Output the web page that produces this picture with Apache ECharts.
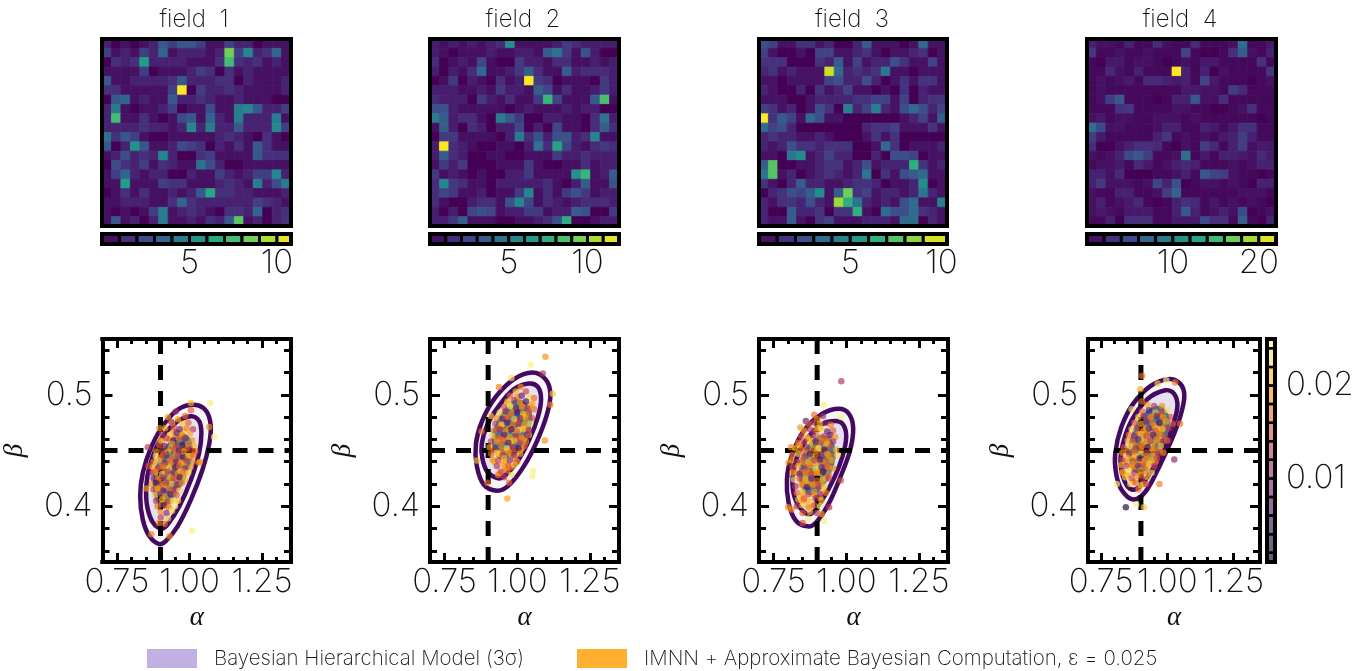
<!DOCTYPE html>
<html><head><meta charset="utf-8">
<style>html,body{margin:0;padding:0;background:#fff}#c{width:1368px;height:671px}</style>
<script src="https://cdn.jsdelivr.net/npm/echarts@6/dist/echarts.min.js"></script>
</head><body><div id="c"></div>
<script>
const fieldTitles = ['field  1','field  2','field  3','field  4'];
const viridis = ['#440154','#482878','#3e4989','#31688e','#26828e','#1f9e89','#35b779','#6ece58','#b5de2b','#fde725'];
const inferno = ['#000004','#1b0c41','#4a0c6b','#781c6d','#a52c60','#cf4446','#ed6925','#fb9b06','#f7d13d','#fcffa4'];

const field1 = [
[1,0,.5,0,.5,1,3,2,3,3,2,.5,.5,2,1,1,0,.5,.5,.5],
[2,.5,1,.5,2,1,3.5,.5,1,1,1,.5,1,8.5,2,5,1,1.5,3.5,.5],
[0,1.5,1,1.5,6,1,1,1,1,.5,.5,.5,1.5,7.5,1.5,1,1.5,.5,1,.5],
[.5,.5,.5,.5,2,0,.5,.5,.5,1,2,1.5,0,1.5,.5,1,.5,.5,.5,.5],
[3,.5,.5,1,1,1,1,1.5,3,1,1,1,1.5,1.5,0,1,.5,.5,.5,1],
[1.5,1.5,.5,.5,.5,.5,.5,2,10.8,0,2,1,1,1.5,1,.5,.5,.5,.5,1],
[0,3,3.5,.5,1,.5,.5,3,1,1,1.5,1,.5,.5,1,.5,.5,.5,0,0],
[1,4.5,.5,0,.5,.5,1,2,0,.5,.5,2.5,.5,.5,4.5,5,3,1,1,2],
[1,7.5,.5,.5,1.5,.5,0,.5,2.5,3,.5,3.5,1,.5,4.5,1,1,1,4.5,.5],
[1,1,1,1,1.5,1,1,.5,1,5,1,4.5,1,1,3,1,1,1,5,2],
[4,1.5,3,2,.5,0,0,.5,.5,.5,.5,.5,1,1.5,1,.5,0,1.5,.5,0],
[3,0,1,5.5,3,.5,.5,1,2.5,2,1.5,0,1,.5,1.5,.5,3,1.5,.5,.5],
[.5,1,2.5,1,1.5,1,5,1,0,0,1.5,2,.5,.5,.5,.5,3,1.5,1.5,1.5],
[0,2.5,1.5,1,2,.5,1.5,1,.5,.5,4,2.5,1,0,0,.5,.5,.5,.5,.5],
[.5,2,3.5,1,.5,1,1,0,0,1,.5,.5,2,1,.5,1,2,2,5,1],
[.5,.5,6,.5,.5,.5,2,1.5,1.5,.5,.5,.5,1,1.5,1,.5,4.5,1,2.5,4.5],
[0,.5,1.5,.5,1.5,.5,.5,1,.5,1,3,6.5,1.5,1.5,1,1,.5,.5,.5,1],
[.5,.5,1,1,1,.5,.5,1.5,3.5,1.5,1,1,1,1,1,1,2,1.5,1,.5],
[.5,0,.5,0,.5,2,4.5,.5,1,1.5,1,.5,0,1.5,1.5,1,3.5,0,1,1.5],
[.5,3,.5,1,0,1,4.5,.5,.5,1,.5,1.5,1,3,8,.5,1,0,1,1.5]];
const field2 = [
[1,.5,1,.5,1,.5,1,1.5,6,.5,.5,.5,.5,1,2,1.5,1,1,1,1],
[1,.5,0,.5,.5,.5,1,.5,.5,1,1,.5,3.5,4.5,2,.5,3,1,0,0],
[1.5,0,.5,1,.5,2.5,.5,0,0,2,1,1,.5,1.5,1.5,.5,.5,1,.5,1],
[1,0,1,.5,1.5,4,.5,.5,1,2,3.5,1.5,.5,.5,3.5,1,1.5,1.5,1.5,1],
[0,.5,2,0,1,.5,0,1.5,.5,1,12,2,1.5,0,.5,.5,.5,0,2,1],
[1,1,1,.5,.5,1,.5,2,1,1,.5,3.5,2.5,.5,1.5,.5,.5,1,2,1],
[1.5,1,1,1,0,2,1,.5,1.5,.5,.5,2,8,2.5,.5,.5,.5,3.5,8.5,.5],
[3,3,1,.5,.5,.5,.5,.5,0,.5,1,.5,.5,.5,1,.5,1,1,0,0],
[5,3.5,1,1.5,1.5,.5,0,5,3.5,2,0,0,1,1,.5,.5,0,1.5,4.5,1],
[.5,3.5,1,0,1.5,1,0,1,1,2.5,0,1,0,2.5,.5,.5,0,1.5,3.5,1.5],
[0,2,2,.5,.5,.5,.5,0,1,5,1.5,3,1,3,3,1,1.5,5.5,.5,.5],
[1,12,1.5,1,.5,0,0,.5,.5,0,1,4.5,1.5,7,2.5,1,.5,1.5,2,1.5],
[1,3.5,1.5,1,0,0,.5,.5,0,0,.5,.5,.5,2,1,1,1.5,1,1,1],
[.5,2,1,2,0,0,0,.5,.5,.5,2,.5,0,0,.5,.5,1.5,.5,1,1],
[2,.5,1,.5,0,.5,0,0,1,1,2,.5,.5,.5,.5,6,8,.5,1,3.5],
[1.5,5.5,2,1.5,.5,.5,0,1,1,1,1,1,1.5,.5,0,1,3.5,.5,.5,3],
[1.5,2.5,2,.5,.5,1,0,.5,.5,2,5.5,.5,1.5,.5,2,3,2,.5,1,1],
[1.5,.5,0,0,1,1.5,1.5,.5,3,5.5,2.5,.5,1.5,1,.5,1,1.5,1.5,1.5,1],
[1,0,1,0,2.5,3,2.5,.5,1,1,2,2,.5,1,1,3.5,3,0,0,2],
[1,1,2,3.5,.5,.5,.5,0,0,.5,.5,1,1.5,3,7.5,0,0,.5,1,1]];
const field3 = [
[2.5,2,.5,.5,1.5,1.5,.5,1,0,0,1,3,.5,.5,.5,0,.5,3.5,.5,.5],
[2,.5,0,0,.5,0,2,2,.5,.5,1,1.5,.5,0,.5,.5,1,1.5,0,.5],
[1.5,1.5,1.5,0,0,0,1.5,1,3,.5,2,.5,1,1,2.5,1.5,.5,.5,2,.5],
[1,1.5,.5,1,.5,.5,.5,9.5,3.5,1,1.5,1,1.5,4,.5,.5,0,.5,.5,.5],
[.5,.5,0,.5,.5,.5,.5,2,2.5,1,1,2.5,1,0,.5,1.5,.5,1.5,1.5,.5],
[1,.5,0,0,1,0,1.5,.5,1,2,.5,.5,0,.5,0,1.5,0,1,.5,.5],
[.5,.5,.5,0,0,.5,1,1,1,1,1.5,1.5,2,2,.5,2,0,1,1.5,1.5],
[2,1.5,.5,1,0,.5,2.5,1.5,0,4.5,1,2,4.5,1,.5,2.5,3.5,2.5,1,2],
[10.3,1.5,3,2,.5,3.5,2.5,.5,.5,0,0,0,0,0,0,.5,1,2,.5,3],
[3.5,2,2.5,1,0,0,0,0,0,0,0,1,1.5,1.5,2,.5,.5,.5,1.5,.5],
[1,1.5,1,1,.5,.5,1,.5,0,0,0,.5,1.5,.5,1.5,0,0,0,0,0],
[1,.5,1,2.5,1.5,1.5,1,1.5,1.5,1.5,0,0,.5,3.5,1.5,0,.5,.5,.5,1],
[.5,.5,0,4,5,.5,1,2,1,1,0,0,1,0,2.5,2.5,2,0,.5,.5],
[3,7.5,0,0,.5,.5,1,1.5,1.5,.5,1,2.5,.5,1,1,1,6.5,1.5,.5,1],
[4,7.5,.5,1,0,.5,1,1.5,1,.5,1,4,0,1.5,.5,2.5,3,3.5,.5,.5],
[1.5,.5,0,1,3,1,1,.5,.5,1,1.5,1.5,1,0,.5,.5,1,5,0,.5],
[0,1,1.5,2.5,2,3,5,.5,3,8,1.5,2,.5,1,1,.5,1,4,1,.5],
[1,.5,1.5,1.5,1,2.5,1,.5,8.8,6.5,4,1,.5,1,.5,2.5,3.5,.5,.5,4.5],
[1,0,0,3,1,1,1.5,0,1.5,1.5,6.5,.5,0,3.5,2.5,2.5,3.5,1.5,1,.5],
[1,.5,.5,3,.5,0,1.5,2,.5,.5,.5,1,1,1,.5,3.5,3.5,0,1,.5]];
const field4 = [
[2,1,1,.5,2,.5,.5,2.5,1,.5,.5,2.5,.5,.5,.5,1,8,.5,.5,1.5],
[3.5,.5,.5,1,.5,.5,1,.5,.5,.5,4.5,.5,0,0,.5,3,6.5,1,.5,2],
[.5,0,1.5,1.5,.5,1,1,.5,0,.5,1,.5,1.5,1.5,.5,.5,.5,.5,3,.5],
[.5,.5,2.5,1,.5,2,.5,.5,.5,22,2,.5,2,0,1,.5,.5,.5,.5,3.5],
[.5,1,.5,1,1.5,.5,2.5,2.5,2,1.5,2,.5,4.5,1.5,.5,.5,.5,0,.5,1],
[.5,1,.5,.5,.5,.5,.5,.5,.5,.5,1.5,1.5,1,1,.5,4,2.5,.5,.5,.5],
[.5,1,4,6,.5,.5,.5,0,.5,2,2,6,1,1,3,.5,.5,.5,.5,.5],
[.5,.5,.5,3,3.5,.5,.5,.5,.5,1,1,.5,.5,0,0,.5,1,3,.5,.5],
[1,1.5,.5,1,1,.5,.5,1,1,1,.5,1,.5,.5,.5,.5,.5,.5,0,.5],
[8,5,1,1,.5,.5,.5,1,2,2,.5,.5,2,1.5,.5,1.5,3,3,.5,.5],
[4,1.5,.5,.5,.5,.5,.5,2,3.5,.5,1,.5,1,.5,1.5,2,4,2,.5,.5],
[3,0,0,1,2,3,3,2.5,.5,0,1,.5,4,2.5,.5,2,4,1,1.5,1.5],
[1,.5,1,2,5,6,4,.5,.5,1,8,.5,1.5,.5,2,2,1.5,1,2.5,1.5],
[.5,1,1,1.5,.5,2.5,1.5,.5,1,2,2.5,2,.5,.5,.5,1,.5,1,2,2],
[2,2,1,2.5,0,0,0,.5,.5,1,2,.5,6,4.5,4,1,.5,.5,0,.5],
[2,3.5,1,1,1,.5,1,4.5,2,5.5,0,.5,1,1,.5,1,.5,0,2,2],
[1,.5,.5,2,2,.5,.5,1,4,7,.5,.5,.5,.5,.5,.5,1,1,1,.5],
[1,2,.5,1,1.5,2.5,.5,0,.5,2,3,2.5,.5,1.5,.5,1,.5,1,.5,0],
[1,1.5,1,.5,1.5,1.5,1.5,.5,.5,2,6,2,.5,1,2,1,5,0,.5,1],
[.5,.5,2,0,3,3,3,.5,.5,1.5,1.5,1.5,5,3,3,.5,6.5,.5,0,2]];
const fieldMax = [10.8,12,10.3,22];
const fieldTicks = [[5,10],[5,10],[5,10],[10,20]];
const barEdges = [
[0,1,2,3,4,5,6,7,8,9,10,10.8],
[0,1,2,3,4,5,6,7,8,9,10,11,12],
[0,1,2,3,4,5,6,7,8,9,10.3],
[0,2,4,6,8,10,12,14,16,18,20,22]];
const epsEdges = [.001,.002,.004,.006,.008,.01,.012,.014,.016,.018,.02,.022,.024,.025];
const epsTicks = [.01,.02];

const trueAlpha = 0.9, trueBeta = 0.45;
const alphaRange = [0.7,1.35], betaRange = [0.35,0.55];
const alphaMajor = [.75,1,1.25];
const alphaMinor = [.8,.85,.9,.95,1.05,1.1,1.15,1.2,1.3];
const betaMajor = [.4,.5];
const betaMinor = [.36,.38,.42,.44,.46,.48,.52,.54];

const outer1=[[1.016,.491],[1.056,.486],[1.073,.473],[1.068,.456],[1.045,.433],[1.005,.406],[.959,.382],[.919,.369],[.896,.366],[.862,.373],[.839,.388],[.83,.409],[.839,.43],[.868,.453],[.913,.474],[.965,.4875]];
const inner1=[[1.005,.4807],[1.033,.4765],[1.041,.4653],[1.033,.4475],[1.005,.4238],[.965,.4],[.925,.3838],[.904,.38],[.874,.3853],[.854,.4],[.851,.4179],[.862,.4356],[.896,.4579],[.948,.4741]];
const core1=[[.971,.4653],[1.003,.4608],[1.011,.4475],[.993,.4297],[.959,.412],[.913,.4],[.882,.406],[.874,.4208],[.888,.4386],[.925,.4564]];
const outer2=[[1.052,.52],[1.097,.514],[1.114,.501],[1.103,.483],[1.069,.459],[1.023,.436],[.972,.419],[.932,.414],[.886,.419],[.861,.436],[.858,.456],[.88,.477],[.926,.498],[.989,.514]];
const inner2=[[1.04,.51],[1.071,.507],[1.082,.496],[1.071,.48],[1.04,.459],[1,.44],[.96,.428],[.935,.425],[.897,.431],[.88,.443],[.878,.456],[.897,.473],[.937,.49],[.989,.505]];
const core2=[[1.006,.496],[1.04,.49],[1.052,.479],[1.034,.462],[.995,.447],[.943,.442],[.918,.45],[.915,.465],[.937,.48],[.972,.492]];
const outer3=[[.975,.4875],[1.009,.483],[1.024,.47],[1.013,.45],[.981,.427],[.941,.403],[.895,.385],[.867,.382],[.827,.387],[.802,.403],[.796,.424],[.812,.445],[.855,.468],[.918,.483]];
const inner3=[[.964,.4765],[.99,.473],[1,.462],[.987,.4445],[.958,.425],[.918,.406],[.878,.393],[.85,.396],[.823,.4075],[.815,.424],[.827,.4415],[.861,.459],[.912,.473]];
const core3=[[.918,.4638],[.952,.459],[.964,.446],[.947,.4297],[.912,.415],[.872,.41],[.844,.418],[.838,.4327],[.855,.449],[.889,.461]];
const outer4=[[1.002,.514],[1.048,.51],[1.064,.499],[1.048,.48],[1.015,.459],[.97,.436],[.917,.413],[.871,.406],[.826,.415],[.806,.4297],[.803,.4475],[.826,.471],[.871,.492],[.937,.508]];
const inner4=[[.992,.504],[1.025,.501],[1.038,.49],[1.022,.474],[.989,.453],[.943,.433],[.898,.418],[.865,.415],[.839,.422],[.823,.4386],[.832,.456],[.865,.477],[.924,.496]];
const core4=[[.957,.49],[.996,.486],[1.009,.474],[.989,.456],[.943,.4386],[.898,.4297],[.865,.4327],[.852,.4475],[.865,.465],[.904,.4816]];

const abc1=[[1.071,.4925,.024],[1.005,.4925,.021],[1.005,.486,.016],[.953,.485,.012],[1.068,.471,.019],[1.085,.462,.024],[1.009,.378,.024],[.896,.47,.019],[.856,.453,.013],[.859,.436,.015],[.851,.416,.02],[.931,.373,.019],[.868,.375,.018],[1.033,.439,.02],
[.925,.48,.02],[.985,.481,.017],[.936,.476,.012],[.976,.474,.022],[.996,.475,.016],[.916,.47,.02],[.946,.471,.015],[.966,.469,.009],[.99,.47,.018],[1.012,.469,.013],[.905,.465,.012],[.931,.464,.022],[.956,.466,.008],[.975,.464,.019],[1.001,.465,.02],
[.9,.459,.021],[.921,.461,.014],[.944,.459,.007],[.966,.46,.017],[.984,.461,.011],[1.009,.459,.019],[.896,.455,.016],[.914,.454,.009],[.94,.456,.02],[.955,.454,.013],[.976,.455,.006],[.995,.456,.018],[1.016,.454,.021],
[.886,.449,.019],[.906,.451,.012],[.925,.449,.022],[.946,.451,.016],[.964,.45,.008],[.981,.449,.019],[1,.451,.013],[1.02,.449,.017],[.884,.445,.023],[.901,.444,.015],[.92,.446,.01],[.941,.444,.018],[.96,.446,.013],[.979,.444,.007],[.996,.445,.021],[1.014,.446,.017],
[.876,.44,.018],[.894,.441,.021],[.916,.439,.011],[.934,.441,.016],[.955,.44,.009],[.971,.439,.02],[.989,.441,.014],[1.011,.44,.018],[1.036,.44,.019],[.874,.435,.02],[.891,.434,.013],[.909,.436,.017],[.93,.434,.022],[.951,.435,.006],[.964,.436,.016],[.986,.434,.012],[1.004,.435,.019],
[.871,.43,.011],[.884,.431,.018],[.906,.429,.023],[.924,.431,.014],[.946,.43,.01],[.96,.429,.019],[.979,.431,.017],[.996,.43,.022],[.876,.425,.009],[.891,.424,.017],[.909,.426,.012],[.93,.424,.02],[.944,.425,.015],[.966,.426,.007],[.985,.424,.021],
[.87,.42,.019],[.884,.421,.006],[.901,.419,.016],[.919,.421,.013],[.94,.42,.022],[.956,.419,.011],[.974,.421,.018],[.876,.415,.014],[.889,.416,.02],[.91,.414,.009],[.931,.416,.017],[.95,.415,.012],[.965,.414,.023],
[.881,.41,.022],[.899,.411,.013],[.916,.409,.019],[.934,.411,.008],[.955,.41,.016],[.885,.405,.012],[.906,.406,.021],[.924,.404,.015],[.944,.405,.023],[.89,.4,.017],[.911,.401,.006],[.929,.399,.018],[.95,.4,.024],[.9,.395,.019],[.921,.394,.01],[.94,.396,.023],[.901,.39,.013],[.926,.389,.022],[.895,.385,.018],[.915,.384,.016]];
const warm1=[[.93,.46,.019],[.95,.462,.018],[.97,.452,.02],[.91,.447,.019],[.935,.452,.018],[.955,.447,.02],[.99,.452,.017],[.9,.435,.018],[.92,.436,.02],[.94,.438,.019],[.96,.441,.017],[.98,.438,.02],[.895,.425,.019],[.915,.43,.018],[.935,.427,.021],[.955,.425,.018],[.975,.427,.02],[.895,.415,.018],[.92,.418,.02],[.94,.412,.019],[.96,.418,.017],[.905,.402,.019],[.935,.405,.018],[.92,.4,.02],[.97,.465,.021],[.945,.467,.019],[.905,.458,.02],[.985,.445,.018],[1.005,.445,.019],[.88,.43,.02],[.985,.43,.021],[.9,.443,.017],[.95,.433,.02],[.91,.42,.021],[.96,.405,.022],[.94,.475,.022],[.96,.478,.02],[.98,.468,.022],[.93,.44,.021],[.97,.432,.023]];

const abc2=[[1.097,.534,.019],[1.046,.527,.024],[1.088,.519,.012],[.98,.515,.023],[.937,.507,.018],[1.122,.501,.022],[1.114,.491,.018],[1.095,.459,.019],[1.054,.432,.024],[1.052,.427,.024],[.966,.407,.02],[.861,.441,.021],[.877,.467,.017],[.897,.421,.017],[.972,.421,.016],[.909,.481,.022],[.934,.428,.018],
[1.012,.507,.019],[1.03,.503,.014],[.995,.503,.021],[.975,.499,.016],[1.015,.499,.008],[1.04,.498,.023],[1.058,.497,.017],[.966,.494,.02],[.99,.495,.012],[1.01,.493,.019],[1.03,.494,.006],[1.052,.492,.02],[.955,.489,.015],[.975,.49,.023],[.996,.488,.009],[1.016,.489,.018],[1.035,.488,.013],[1.058,.487,.017],
[.94,.484,.022],[.96,.485,.012],[.98,.483,.018],[1,.484,.007],[1.02,.483,.021],[1.04,.484,.016],[.93,.479,.019],[.95,.478,.009],[.97,.48,.016],[.99,.478,.022],[1.01,.479,.011],[1.03,.478,.019],[1.05,.479,.015],[.925,.474,.014],[.945,.473,.021],[.965,.475,.008],[.985,.473,.017],[1.005,.474,.012],[1.025,.473,.02],[1.045,.474,.023],
[.92,.468,.017],[.94,.469,.011],[.96,.467,.019],[.98,.469,.006],[1,.467,.016],[1.02,.469,.022],[1.04,.468,.013],[.915,.463,.022],[.935,.462,.015],[.955,.464,.009],[.975,.462,.02],[.995,.463,.013],[1.015,.462,.018],[1.035,.464,.011],
[.91,.458,.013],[.93,.458,.019],[.95,.459,.016],[.97,.457,.007],[.99,.459,.021],[1.01,.457,.014],[1.03,.458,.018],[.905,.453,.02],[.925,.452,.01],[.945,.454,.018],[.965,.452,.023],[.985,.453,.012],[1.005,.452,.006],[1.025,.454,.017],
[.91,.447,.016],[.93,.448,.022],[.95,.446,.013],[.97,.448,.018],[.99,.446,.009],[1.01,.447,.02],[.915,.442,.019],[.935,.441,.014],[.955,.443,.021],[.975,.441,.011],[.995,.442,.017],[.93,.436,.012],[.95,.437,.02],[.97,.436,.016],[.99,.437,.022],[.945,.431,.014],[.965,.432,.018],[.955,.426,.013],[.98,.428,.023]];
const warm2=[[1,.498,.019],[1.02,.49,.018],[.985,.488,.02],[.96,.48,.019],[1,.476,.018],[1.03,.482,.02],[.94,.47,.019],[.97,.47,.018],[1.01,.47,.02],[1.03,.47,.019],[.93,.46,.018],[.96,.46,.02],[.98,.457,.019],[1,.46,.017],[1.02,.46,.02],[.92,.45,.019],[.95,.45,.018],[.97,.45,.02],[.99,.45,.018],[1.01,.45,.019],[.92,.44,.02],[.94,.445,.018],[.96,.44,.019],[.98,.445,.02],[1,.44,.018],[.94,.43,.02],[.96,.435,.019],[.98,.435,.018],[1.02,.48,.022],[1.04,.464,.021],[.95,.474,.022],[.99,.468,.021],[.975,.458,.022],[.945,.46,.021],[.935,.447,.022],[1.015,.452,.021],[1.005,.468,.023],[.97,.492,.022],[1.045,.49,.021],[.98,.47,.02]];

const abc3=[[.983,.512,.012],[.924,.491,.024],[.89,.482,.017],[.861,.4765,.008],[.842,.4706,.019],[.981,.48,.024],[.81,.453,.018],[.802,.439,.019],[.81,.436,.004],[.8,.399,.019],[.812,.397,.019],[.85,.385,.015],[.869,.389,.024],[.924,.387,.024],[.981,.423,.014],[.941,.399,.012],
[.92,.481,.011],[.9,.478,.019],[.87,.474,.016],[.89,.475,.013],[.91,.474,.021],[.93,.475,.009],[.947,.473,.018],[.855,.468,.02],[.875,.469,.012],[.895,.467,.017],[.915,.469,.023],[.935,.467,.008],[.955,.468,.016],[.845,.463,.015],[.865,.462,.021],[.885,.464,.01],[.905,.462,.018],[.925,.463,.014],[.945,.464,.007],[.962,.462,.019],
[.835,.457,.018],[.855,.458,.013],[.875,.456,.022],[.895,.458,.009],[.915,.457,.016],[.935,.456,.02],[.955,.458,.012],[.825,.452,.021],[.845,.451,.017],[.865,.453,.011],[.885,.451,.019],[.905,.452,.024],[.925,.451,.006],[.945,.453,.015],[.965,.451,.021],
[.815,.446,.017],[.835,.447,.022],[.855,.445,.014],[.875,.447,.008],[.895,.445,.018],[.915,.446,.012],[.935,.447,.019],[.955,.445,.016],[.97,.446,.023],[.812,.441,.019],[.83,.44,.01],[.85,.442,.016],[.87,.44,.021],[.89,.441,.013],[.91,.442,.007],[.93,.44,.017],[.95,.441,.02],
[.815,.435,.014],[.835,.436,.02],[.855,.434,.012],[.875,.436,.018],[.895,.434,.023],[.915,.435,.01],[.935,.436,.016],[.955,.434,.019],[.815,.43,.02],[.84,.429,.008],[.86,.431,.017],[.88,.429,.014],[.9,.43,.02],[.92,.431,.006],[.94,.429,.018],
[.82,.424,.023],[.84,.425,.015],[.86,.423,.02],[.88,.425,.011],[.9,.423,.016],[.92,.424,.021],[.94,.425,.013],[.825,.418,.012],[.845,.419,.019],[.865,.417,.007],[.885,.419,.018],[.905,.417,.013],[.925,.418,.022],[.83,.412,.017],[.85,.413,.021],[.87,.411,.014],[.89,.413,.019],[.91,.411,.01],[.93,.412,.018],
[.835,.406,.021],[.855,.407,.016],[.875,.405,.023],[.895,.407,.012],[.915,.405,.02],[.83,.4,.013],[.85,.401,.022],[.87,.399,.018],[.89,.401,.015],[.91,.4,.024],[.85,.394,.016],[.875,.395,.021],[.9,.394,.012],[.915,.393,.02]];
const warm3=[[.91,.47,.019],[.88,.46,.018],[.9,.455,.02],[.92,.46,.019],[.94,.46,.018],[.86,.45,.019],[.88,.445,.02],[.9,.45,.018],[.92,.45,.02],[.94,.445,.019],[.84,.44,.02],[.86,.438,.018],[.88,.437,.019],[.9,.44,.02],[.92,.44,.018],[.94,.435,.019],[.83,.43,.018],[.85,.43,.02],[.87,.43,.019],[.89,.43,.018],[.91,.43,.02],[.93,.425,.019],[.85,.42,.018],[.87,.42,.02],[.89,.42,.019],[.91,.42,.018],[.85,.41,.02],[.87,.405,.018],[.89,.41,.019],[.85,.405,.019],[.9,.47,.022],[.87,.46,.021],[.93,.455,.022],[.89,.44,.023],[.905,.435,.022],[.86,.425,.021],[.92,.415,.022],[.84,.455,.021],[.88,.4,.022],[.91,.408,.021]];

const abc4=[[1.029,.511,.018],[.963,.51,.022],[.996,.513,.024],[.904,.517,.017],[.898,.505,.02],[.904,.494,.017],[.865,.487,.023],[1.048,.474,.017],[1.026,.442,.01],[.809,.42,.024],[.843,.399,.003],[.882,.4015,.024],[.911,.399,.022],[.891,.415,.018],[.97,.42,.018],[.832,.43,.021],
[.925,.491,.02],[.95,.49,.013],[.98,.49,.019],[.905,.485,.017],[.93,.486,.008],[.955,.484,.021],[.98,.485,.014],[1,.486,.023],[.89,.48,.021],[.91,.481,.012],[.935,.479,.017],[.96,.481,.009],[.985,.48,.019],[1.01,.48,.015],[.875,.475,.016],[.9,.474,.02],[.92,.476,.011],[.945,.474,.018],[.97,.475,.007],[.995,.476,.02],[1.02,.474,.016],
[.865,.469,.022],[.885,.47,.014],[.91,.468,.019],[.93,.47,.01],[.955,.468,.016],[.98,.469,.021],[1.005,.47,.013],[.855,.464,.018],[.875,.463,.012],[.9,.465,.021],[.92,.463,.016],[.945,.464,.008],[.97,.465,.018],[.99,.463,.013],[.85,.459,.02],[.87,.458,.016],[.89,.46,.009],[.915,.458,.02],[.935,.459,.013],[.96,.46,.019],[.985,.458,.011],[1,.459,.017],
[.835,.453,.015],[.86,.454,.022],[.88,.452,.012],[.905,.454,.018],[.925,.453,.006],[.95,.452,.017],[.975,.454,.021],[.83,.448,.019],[.855,.447,.01],[.875,.449,.017],[.9,.447,.023],[.92,.448,.014],[.945,.449,.019],[.965,.447,.012],[.985,.448,.018],
[.83,.442,.014],[.85,.443,.02],[.87,.441,.016],[.895,.443,.007],[.915,.442,.018],[.94,.441,.021],[.96,.443,.015],[.825,.437,.021],[.845,.436,.013],[.865,.438,.019],[.89,.436,.011],[.91,.437,.016],[.93,.438,.022],[.95,.436,.014],
[.83,.431,.018],[.855,.432,.023],[.875,.43,.012],[.9,.432,.02],[.92,.431,.017],[.94,.43,.023],[.84,.426,.022],[.865,.425,.015],[.885,.427,.019],[.905,.425,.012],[.925,.426,.021],[.86,.42,.023],[.88,.421,.017],[.9,.419,.022],[.92,.42,.014]];
const warm4=[[.94,.48,.019],[.97,.482,.018],[.92,.47,.02],[.95,.472,.019],[.98,.475,.018],[.89,.465,.019],[.915,.465,.018],[.94,.465,.02],[.965,.468,.019],[.985,.47,.018],[.87,.455,.02],[.895,.455,.018],[.92,.455,.019],[.945,.457,.02],[.97,.458,.018],[.85,.45,.019],[.875,.445,.02],[.9,.45,.018],[.925,.445,.019],[.95,.445,.02],[.97,.45,.018],[.84,.44,.018],[.86,.435,.02],[.885,.44,.019],[.905,.44,.02],[.93,.44,.018],[.955,.44,.019],[.85,.428,.02],[.875,.435,.018],[.9,.428,.019],[.925,.435,.02],[.87,.422,.018],[.91,.42,.019],[.93,.46,.022],[.9,.46,.023],[.96,.47,.022],[.88,.445,.022],[.94,.452,.023],[.98,.463,.021],[.86,.445,.021]];

const panels = [
 {field:field1,outer:outer1,inner:inner1,core:core1,pts:abc1,warm:warm1},
 {field:field2,outer:outer2,inner:inner2,core:core2,pts:abc2,warm:warm2},
 {field:field3,outer:outer3,inner:inner3,core:core3,pts:abc3,warm:warm3},
 {field:field4,outer:outer4,inner:inner4,core:core4,pts:abc4,warm:warm4}];
const cellIds = [...Array(20).keys()].map(String);

const heatBox = [[102,189],[430,189],[759,188],[1087,189]];
const lowBox = [[102.5,188.5],[430,189],[759,189],[1088,172]];
const titleX = [189,518,847,1175];
const FONT = 'Inter';
const labelStyle = {fontFamily:FONT,fontWeight:200,fontSize:33,color:'#111'};
const greekStyle = {fontFamily:'Liberation Serif',fontStyle:'italic',fontSize:27,color:'#111'};

const grid=[],xAxis=[],yAxis=[],series=[],visualMap=[],title=[];
const line={show:true,onZero:false,lineStyle:{color:'#000',width:4,cap:'square'}};

function frameAxis(kind,gridIndex,position,base){
  const a=Object.assign({gridIndex,position,z:10,axisLine:line,axisTick:{show:false},axisLabel:{show:false},splitLine:{show:false}},base);
  (kind==='x'?xAxis:yAxis).push(a);
  return (kind==='x'?xAxis:yAxis).length-1;
}
function tickAxis(kind,gridIndex,position,range,ticks,len,extra){
  return frameAxis(kind,gridIndex,position,Object.assign({type:'value',min:range[0],max:range[1],
    axisTick:{show:true,inside:true,length:len,customValues:ticks,lineStyle:{color:'#000',width:3}},
    axisLabel:{show:false},scale:true},extra||{}));
}
const cellRender=(p,api)=>{
  const a=api.coord([api.value(0),0]),b=api.coord([api.value(1),1]);
  return {type:'rect',shape:{x:a[0],y:b[1],width:b[0]-a[0],height:a[1]-b[1]},
    style:{fill:api.visual('color'),stroke:'#000',lineWidth:3}};
};
const heatRender=(p,api)=>{
  const c=api.coord([api.value(0),api.value(1)]),s=api.size([1,1]),col=api.visual('color');
  return {type:'rect',shape:{x:c[0]-s[0]/2,y:c[1]-s[1]/2,width:s[0],height:s[1]},
    style:{fill:col,stroke:col,lineWidth:.8}};
};
const ringRender=(ring,fill,stroke,lw)=>(p,api)=>{
  if(p.dataIndex!==0) return null;
  return {type:'polygon',shape:{points:ring.map(v=>api.coord(v)),smooth:0.36},
    style:{fill,stroke:stroke||'none',lineWidth:lw||0}};
};

panels.forEach((P,i)=>{
  const g0=grid.length;
  grid.push({left:heatBox[i][0],width:heatBox[i][1],top:39,height:187});
  const cx=frameAxis('x',g0,'bottom',{type:'category',data:cellIds});
  frameAxis('x',g0,'top',{type:'category',data:cellIds});
  const cy=frameAxis('y',g0,'left',{type:'category',data:cellIds,inverse:true});
  frameAxis('y',g0,'right',{type:'category',data:cellIds,inverse:true});
  const heatData=[];
  P.field.forEach((row,r)=>row.forEach((v,c)=>heatData.push([c,r,v])));
  const si=series.length;
  series.push({type:'custom',xAxisIndex:cx,yAxisIndex:cy,data:heatData,encode:{x:0,y:1},renderItem:heatRender,z:2});
  title.push({text:fieldTitles[i],left:titleX[i],top:3,textAlign:'center',
    textStyle:{fontFamily:FONT,fontWeight:200,fontSize:24,color:'#111'}});
  const g1=grid.length;
  grid.push({left:heatBox[i][0],width:heatBox[i][1],top:234,height:10});
  const edges=barEdges[i];
  const bx=frameAxis('x',g1,'bottom',{type:'value',min:0,max:fieldMax[i],
    axisLabel:{show:true,customValues:fieldTicks[i],margin:3,...labelStyle}});
  frameAxis('x',g1,'top',{type:'value',min:0,max:fieldMax[i]});
  const by=frameAxis('y',g1,'left',{type:'value',min:0,max:1});
  frameAxis('y',g1,'right',{type:'value',min:0,max:1});
  const bars=edges.slice(0,-1).map((e,k)=>[e,edges[k+1],(e+edges[k+1])/2]);
  const sb=series.length;
  series.push({type:'custom',xAxisIndex:bx,yAxisIndex:by,data:bars,encode:{x:[0,1]},renderItem:cellRender,z:3});
  visualMap.push({show:false,seriesIndex:[si,sb],dimension:2,min:0,max:fieldMax[i],inRange:{color:viridis}});
  const g2=grid.length;
  grid.push({left:lowBox[i][0],width:lowBox[i][1],top:339,height:223});
  const mx=tickAxis('x',g2,'bottom',alphaRange,alphaMajor,9,{
    name:'α',nameLocation:'middle',nameGap:42,nameTextStyle:greekStyle,
    axisLabel:{show:true,customValues:alphaMajor,margin:4,formatter:v=>v.toFixed(2),...labelStyle}});
  tickAxis('x',g2,'bottom',alphaRange,alphaMinor,5);
  tickAxis('x',g2,'top',alphaRange,alphaMajor,9);
  tickAxis('x',g2,'top',alphaRange,alphaMinor,5);
  const my=tickAxis('y',g2,'left',betaRange,betaMajor,10,{
    name:'β',nameLocation:'middle',nameGap:74,nameTextStyle:greekStyle,
    axisLabel:{show:true,customValues:betaMajor,margin:10,formatter:v=>v.toFixed(1),...labelStyle}});
  tickAxis('y',g2,'left',betaRange,betaMinor,7);
  tickAxis('y',g2,'right',betaRange,betaMajor,10);
  tickAxis('y',g2,'right',betaRange,betaMinor,7);
  const ax={xAxisIndex:mx,yAxisIndex:my};
  [[P.outer,'#f7f5fb','#440a5f',4.5],[P.inner,'#e5e1f0','#440a5f',4.5],[P.core,'#2f7a9c',null,0]].forEach(([ring,f,s,w],k)=>{
    series.push({type:'custom',...ax,data:ring,renderItem:ringRender(ring,f,s,w),z:3+k});
  });
  const dash={color:'#000',width:5,type:[15,11]};
  series.push({type:'line',...ax,data:[[alphaRange[0],trueBeta],[alphaRange[1],trueBeta]],symbol:'none',lineStyle:dash,z:7});
  series.push({type:'line',...ax,data:[[trueAlpha,betaRange[0]],[trueAlpha,betaRange[1]]],symbol:'none',lineStyle:dash,z:7});
  series.push({type:'scatter',...ax,data:P.warm,symbolSize:6.5,itemStyle:{opacity:.7},z:8});
  series.push({type:'scatter',...ax,data:P.pts,symbolSize:6.5,itemStyle:{opacity:.66},z:8});
});

const ge=grid.length;
grid.push({left:1267,width:8,top:339,height:223});
frameAxis('x',ge,'bottom',{type:'value',min:0,max:1});
const ex=frameAxis('x',ge,'top',{type:'value',min:0,max:1});
frameAxis('y',ge,'left',{type:'value',min:epsEdges[0],max:epsEdges[epsEdges.length-1]});
const ey=frameAxis('y',ge,'right',{type:'value',min:epsEdges[0],max:epsEdges[epsEdges.length-1],
  axisLabel:{show:true,customValues:epsTicks,margin:11,formatter:v=>v.toFixed(2),...labelStyle}});
const epsBars=epsEdges.slice(0,-1).map((e,k)=>[e,epsEdges[k+1],(e+epsEdges[k+1])/2]);
const se=series.length;
series.push({type:'custom',xAxisIndex:ex,yAxisIndex:ey,data:epsBars,encode:{y:[0,1]},z:3,renderItem:(p,api)=>{
  const a=api.coord([0,api.value(0)]),b=api.coord([1,api.value(1)]);
  return {type:'rect',shape:{x:a[0],y:b[1],width:b[0]-a[0],height:a[1]-b[1]},
    style:{fill:echarts.color.modifyAlpha(api.visual('color'),.62),stroke:'#000',lineWidth:2.5}};
}});
const scatterIdx=series.map((s,k)=>s.type==='scatter'?k:-1).filter(k=>k>=0);
visualMap.push({show:false,seriesIndex:[...scatterIdx,se],dimension:2,min:epsEdges[0],max:epsEdges[epsEdges.length-1],inRange:{color:inferno}});

const legendNames=['Bayesian Hierarchical Model (3σ)','IMNN + Approximate Bayesian Computation, ε = 0.025'];
const legendColors=['#c2b0e2','#ffb02e'];
legendNames.forEach((n,k)=>series.push({type:'scatter',name:n,xAxisIndex:xAxis.length-1,yAxisIndex:yAxis.length-1,data:[],itemStyle:{color:legendColors[k],opacity:1}}));
const legendStyle={fontFamily:FONT,fontWeight:200,fontSize:20.5,color:'#111',padding:[0,0,0,12]};
const legend=[
 {data:[legendNames[0]],left:142,top:643,itemWidth:50,itemHeight:19,icon:'rect',selectedMode:false,textStyle:legendStyle},
 {data:[legendNames[1]],left:572,top:643,itemWidth:50,itemHeight:19,icon:'rect',selectedMode:false,textStyle:legendStyle}];

const chart=echarts.init(document.getElementById('c'),null,{renderer:'canvas'});
chart.setOption({animation:false,backgroundColor:'#fff',title,grid,xAxis,yAxis,series,visualMap,legend});
</script></body></html>
